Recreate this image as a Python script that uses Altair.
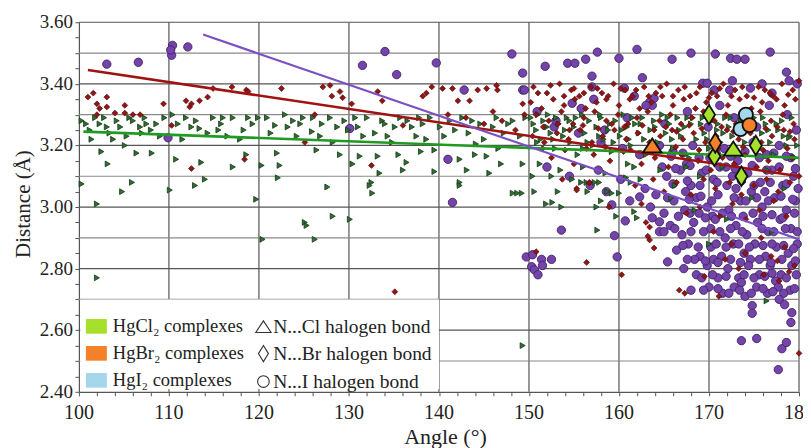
import altair as alt
import pandas as pd

SERIF = "Liberation Serif"

# ---------------- data ----------------
cl_pts = [
    (100.3,3.28),(101.2,3.25),(101.4,3.22),(100.3,3.075),(102.0,3.01),(101.8,3.29),(102.3,3.27),(103.1,3.26),
    (102.5,3.18),(103.2,3.14),(103.4,3.24),(104.2,3.28),(104.6,3.26),(104.8,3.05),(105.1,3.20),(105.3,3.23),
    (105.9,3.08),(106.0,3.28),(106.4,3.175),(106.8,3.26),(107.0,3.24),(107.5,3.27),(108.1,3.175),(108.6,3.27),
    (109.0,3.23),(110.1,3.055),(110.4,3.30),(110.8,3.155),(111.5,3.22),(112.5,3.26),(112.9,3.07),(113.4,3.255),
    (113.6,3.145),(114.0,3.09),(114.9,3.29),(115.5,3.25),(116.0,3.29),(117.1,3.29),(117.1,3.13),(117.9,3.22),
    (118.3,3.25),(118.6,3.17),(118.8,3.29),(119.7,3.025),(119.9,3.29),(120.3,3.135),(120.9,3.29),(121.8,3.265),
    (122.0,3.175),(122.3,3.135),(122.1,3.095),(122.9,3.30),(123.8,3.28),(124.2,3.23),(124.9,3.29),(125.9,3.245),
    (126.4,3.185),(127.0,3.27),(127.6,3.065),(127.9,3.29),(128.2,3.21),(128.7,3.26),(129.0,3.17),(129.5,3.28),
    (130.1,2.96),(130.4,3.14),(131.0,3.26),(131.2,3.165),(132.0,3.29),(132.5,3.08),(132.6,3.045),(132.9,3.24),
    (133.2,3.165),(133.4,3.11),(133.7,3.28),(134.3,3.23),(135.1,3.26),(136.0,3.12),(136.4,3.145),(136.5,3.28),
    (137.5,3.23),(137.8,3.29),(138.6,3.22),(139.5,3.115),(139.5,3.185),(140.1,3.26),(140.6,3.23),(142.3,3.08),
    (142.3,3.155),(143.1,3.12),(143.7,3.28),(144.1,3.205),(145.3,3.165),(145.6,3.11),(146.0,3.26),(146.9,3.14),
    (148.2,3.045),(148.7,3.045),(148.2,3.28),(149.3,3.14),(128.2,2.97),(132.3,3.07),(142.3,3.07),(120.4,2.895),
    (102.0,2.77),(125.1,2.95),(125.3,2.94),(126.2,2.895),(149.3,2.55),
    (100.8,3.27),(102.8,3.29),(103.8,3.22),(105.6,3.29),(107.3,3.29),(108.0,3.25),(109.5,3.29),(111.0,3.27),
    (111.9,3.29),(113.0,3.28),(114.3,3.24),(115.8,3.27),(116.5,3.23),(119.3,3.27),(121.3,3.24),(123.2,3.26),
    (124.6,3.27),(126.0,3.29),(126.8,3.23),(129.9,3.25),(130.7,3.29),(131.6,3.23),(134.0,3.27),(134.8,3.21),
    (135.7,3.29),(137.0,3.26),(138.2,3.27),(139.0,3.29),(141.2,3.28),(141.8,3.25),(142.6,3.29),(143.3,3.24),
    (144.6,3.27),(145.0,3.22),(146.4,3.29),(147.2,3.24),(147.7,3.27),(149.0,3.23),(149.6,3.29),(144.0,3.17),
    (146.6,3.19),(138.0,3.18),(135.5,3.17),
    (150.2,3.29),(150.8,3.25),(151.3,3.22),(151.6,3.28),(152.1,3.30),(152.4,3.24),(152.9,3.19),(153.3,3.27),
    (153.8,3.23),(154.2,3.29),(154.6,3.21),(155.0,3.26),(155.4,3.17),(155.9,3.30),(156.2,3.24),(156.7,3.28),
    (157.1,3.20),(157.5,3.26),(158.0,3.29),(158.3,3.22),(158.8,3.25),(159.2,3.18),(159.6,3.28),(160.1,3.23),
    (160.5,3.30),(160.9,3.26),(161.3,3.20),(161.8,3.27),(162.2,3.24),(162.6,3.29),(163.0,3.17),(163.5,3.25),
    (163.9,3.28),(164.3,3.21),(164.8,3.30),(165.2,3.24),(165.6,3.27),(166.0,3.19),(166.5,3.29),(166.9,3.23),
    (167.3,3.26),(167.8,3.16),(168.2,3.29),(168.6,3.22),(169.1,3.27),(169.5,3.24),(170.0,3.19),(170.4,3.28),
    (170.9,3.25),(171.3,3.21),(171.8,3.29),(172.2,3.26),(172.6,3.23),(173.1,3.17),(173.5,3.28),(174.0,3.21),
    (174.5,3.25),(175.0,3.29),(175.4,3.19),(175.9,3.24),(176.3,3.27),(176.8,3.21),(177.2,3.17),(177.7,3.25),
    (178.1,3.28),(178.6,3.20),(179.0,3.23),(179.5,3.16),
    (150.5,3.27),(151.0,3.30),(152.0,3.26),(153.0,3.29),(154.0,3.25),(155.2,3.29),(156.5,3.21),(157.8,3.23),
    (159.0,3.27),(160.3,3.25),(161.5,3.29),(162.8,3.22),(164.0,3.26),(165.4,3.29),(166.7,3.25),(168.0,3.27),
    (169.3,3.29),(171.0,3.27),(172.4,3.29),(174.2,3.27),(176.0,3.29),(177.5,3.27),(179.2,3.29),
    (150.9,3.21),(152.7,3.22),(154.5,3.28),(156.0,3.19),(157.9,3.30),(159.4,3.21),(161.1,3.22),(162.4,3.27),
    (164.1,3.19),(165.9,3.22),(167.6,3.29),(169.8,3.22),(171.6,3.24),(173.3,3.25),(175.2,3.22),(176.6,3.25),
    (178.3,3.23),(179.8,3.20),
    (151.2,3.14),(153.5,3.12),(154.8,3.09),(156.0,3.13),(158.5,3.11),(161.0,3.14),(162.4,3.09),(164.6,3.12),
    (166.2,3.07),(167.5,3.13),(169.0,3.10),(171.5,3.13),(173.8,3.08),(176.5,3.12),(178.4,3.06),(158.0,3.02),
    (161.3,3.08),(165.8,3.03),(168.4,2.99),(172.0,2.96),(174.8,3.03),(177.0,2.92),
    (150.6,3.05),(149.2,3.045),(151.9,3.01),(152.6,3.015),(153.6,3.00),(152.5,3.10),(150.4,3.10),(153.2,3.05),
    (155.8,3.08),(156.4,3.08),(156.5,3.05),(157.3,3.08),(157.8,3.08),(158.7,3.05),(159.2,3.045),(157.5,3.00),
    (157.6,2.925),(159.7,2.97),(161.7,2.985),(162.0,2.965),(160.0,3.045),(160.8,3.095),(161.7,3.13),(170.0,2.88),
    (176.4,2.695),(178.9,3.225),(179.5,3.16),
]

br_pts = [
    (101.0,3.357),(101.6,3.37),(102.0,3.335),(102.3,3.32),(102.0,3.30),(103.1,3.357),(103.1,3.325),(104.0,3.305),
    (105.1,3.33),(105.1,3.305),(106.0,3.30),(106.8,3.30),(109.4,3.335),(110.3,3.265),(111.9,3.345),(112.3,3.325),
    (112.5,3.335),(113.4,3.345),(114.3,3.357),(112.5,3.125),(114.9,3.385),(117.0,3.39),(118.6,3.38),(118.8,3.375),
    (118.4,3.155),(122.5,3.385),(127.1,3.39),(127.9,3.395),(128.1,3.36),(129.0,3.375),(129.3,3.355),(130.3,3.335),
    (133.2,3.375),(133.7,3.345),(125.1,3.21),(126.2,3.30),(132.5,3.135),(136.0,3.265),(138.2,3.36),(138.6,3.37),
    (139.2,3.39),(140.4,3.385),(141.5,3.385),(142.1,3.345),(143.4,3.345),(144.3,3.38),(145.3,3.385),(146.4,3.395),
    (146.5,3.38),(149.3,3.335),(135.1,2.725),
    (141.0,3.30),(143.0,3.29),(145.0,3.27),(147.0,3.28),(148.5,3.25),(149.5,3.30),(146.0,3.31),
    (150.5,3.39),(152.0,3.37),(153.4,3.40),(154.7,3.38),(155.6,3.36),(156.9,3.39),(158.1,3.37),(159.4,3.40),
    (160.7,3.38),(161.5,3.36),(162.8,3.39),(164.1,3.37),(165.3,3.40),(166.6,3.38),(167.9,3.36),(169.0,3.39),
    (170.3,3.37),(171.6,3.40),(172.9,3.38),(174.2,3.36),(175.5,3.39),(176.8,3.37),(178.1,3.40),(179.3,3.38),(180.0,3.41),
    (150.2,3.34),(151.4,3.32),(152.7,3.35),(153.9,3.33),(155.1,3.35),(156.3,3.32),(157.5,3.34),(158.8,3.36),
    (160.0,3.33),(161.2,3.35),(162.3,3.32),(163.6,3.34),(164.8,3.36),(166.0,3.33),(167.2,3.35),(168.5,3.32),
    (169.7,3.34),(170.9,3.36),(172.1,3.33),(173.4,3.35),(174.7,3.32),(175.9,3.34),(177.1,3.36),(178.4,3.33),(179.6,3.35),
    (150.8,3.30),(152.2,3.28),(153.6,3.31),(154.9,3.27),(156.1,3.29),(157.3,3.31),(158.6,3.28),(159.9,3.30),
    (161.0,3.27),(162.0,3.29),(163.2,3.31),(164.5,3.28),(165.7,3.30),(166.9,3.27),(168.1,3.29),(169.4,3.31),
    (170.6,3.28),(171.9,3.30),(173.0,3.27),(174.4,3.29),(175.7,3.31),(176.9,3.28),(178.2,3.30),(179.4,3.27),
    (150.4,3.23),(151.7,3.21),(153.1,3.24),(154.4,3.22),(155.7,3.25),(157.0,3.21),(158.2,3.23),(159.5,3.25),
    (160.8,3.22),(162.1,3.24),(163.4,3.21),(164.6,3.23),(165.9,3.25),(167.1,3.22),(168.3,3.24),(169.6,3.21),
    (170.8,3.23),(172.0,3.25),(173.3,3.22),(174.6,3.24),(175.8,3.21),(177.0,3.23),(178.3,3.25),(179.5,3.22),
    (151.0,3.37),(152.4,3.395),(153.9,3.36),(155.0,3.385),(156.1,3.37),(157.6,3.385),(158.6,3.35),(160.2,3.385),
    (161.9,3.38),(163.3,3.36),(164.6,3.39),(166.0,3.36),(167.3,3.39),(168.6,3.37),(170.0,3.355),(171.2,3.385),
    (172.5,3.36),(173.7,3.39),(175.0,3.355),(176.2,3.38),(177.5,3.35),(178.8,3.365),
    (151.6,3.26),(153.2,3.27),(154.5,3.25),(156.0,3.265),(157.7,3.255),(159.2,3.27),(160.6,3.26),(162.6,3.265),
    (163.9,3.25),(165.2,3.26),(166.4,3.245),(167.8,3.265),(169.2,3.255),(171.4,3.26),(172.7,3.245),(174.0,3.265),
    (176.3,3.255),(177.6,3.26),(179.0,3.245),
    (151.5,3.19),(154.0,3.185),(156.4,3.19),(158.5,3.195),(161.3,3.185),(163.7,3.18),(166.3,3.195),(168.9,3.185),
    (171.0,3.19),(173.8,3.195),(176.0,3.185),(178.7,3.19),
    (152.5,3.16),(155.0,3.14),(157.2,3.17),(159.0,3.15),(160.5,3.18),(162.5,3.14),(164.0,3.16),(165.5,3.13),
    (167.0,3.17),(168.8,3.15),(170.2,3.12),(171.5,3.16),(172.8,3.14),(174.0,3.17),(175.3,3.13),(176.6,3.15),
    (177.9,3.12),(179.2,3.16),
    (153.7,3.09),(155.3,3.06),(156.7,3.08),(158.9,3.00),(161.8,3.07),(163.8,3.09),(165.0,3.05),(166.4,3.08),
    (168.0,3.04),(169.4,3.09),(170.7,3.06),(172.3,3.08),(173.6,3.04),(175.0,3.07),(176.4,3.09),(177.7,3.05),
    (179.0,3.08),(180.0,3.10),
    (162.5,3.01),(163.0,2.95),(163.4,2.935),(167.5,2.98),(169.0,3.00),(171.2,2.97),(172.6,3.01),(174.1,2.96),
    (175.6,2.99),(177.2,3.02),(178.6,2.97),
    (163.9,2.867),(163.4,2.893),(170.5,2.92),(172.5,2.88),(174.0,2.85),(175.8,2.90),(176.9,2.84),(177.6,2.825),
    (178.4,2.87),(179.5,2.81),(173.3,2.80),(171.8,2.83),(176.1,2.78),(177.8,2.76),(178.9,2.79),
    (160.3,2.78),(156.4,2.82),(150.8,2.855),(166.7,2.73),(167.3,2.72),(169.5,2.775),(171.1,2.71),(180.0,2.525),
    (163.2,2.905),(155.3,3.055),(156.7,3.078),
]

i_pts = [
    (103.1,3.464),(106.6,3.47),(110.3,3.493),(110.4,3.525),(110.2,3.51),(112.1,3.52),(109.9,3.225),
    (131.5,3.46),(134.0,3.505),(135.3,3.43),(139.7,3.468),(130.1,3.255),(141.0,3.155),(141.5,3.015),
    (148.1,3.497),(149.3,3.435),(149.3,3.38),(142.8,3.38),
    (151.8,3.457),(154.3,3.467),(155.1,3.467),(156.3,3.48),(157.6,3.503),(157.0,3.425),(160.0,3.483),
    (162.0,3.512),(162.6,3.42),(154.8,3.337),(149.5,3.38),(157.0,3.39),(160.6,3.386),(163.4,3.34),(163.9,3.353),
    (163.7,3.33),(165.9,3.48),(168.0,3.50),(170.7,3.497),(172.4,3.483),(173.1,3.48),(174.0,3.48),(176.8,3.503),
    (178.6,3.438),(179.8,3.40),(169.3,3.402),(169.8,3.402),(172.6,3.41),(174.6,3.386),(175.9,3.40),(177.0,3.37),
    (178.9,3.41),(170.6,3.38),(172.3,3.38),
    (166.0,3.18),(168.2,3.20),(170.1,3.16),(171.7,3.19),(173.2,3.15),(174.9,3.21),(176.4,3.17),(177.8,3.20),
    (179.1,3.16),(164.5,3.20),(160.4,3.19),(158.0,3.21),(155.5,3.24),(152.8,3.26),(162.3,3.17),(167.5,3.14),
    (150.9,3.31),(153.0,3.28),(155.8,3.32),(158.4,3.25),(160.9,3.29),(163.0,3.33),(165.1,3.27),(167.6,3.31),
    (169.9,3.26),(171.2,3.33),(172.8,3.29),(175.3,3.26),(176.7,3.33),(178.7,3.30),(179.7,3.25),(157.2,3.35),(161.7,3.36),
    (165.3,3.10),(166.8,3.12),(168.0,3.07),(169.2,3.11),(170.5,3.09),(171.9,3.13),(173.0,3.06),(174.3,3.11),
    (175.7,3.08),(177.0,3.12),(178.2,3.07),(179.4,3.10),(167.4,3.05),(172.6,3.10),(176.2,3.05),
    (166.1,3.02),(167.3,2.99),(168.6,3.03),(169.8,3.00),(171.0,3.04),(172.2,2.99),(173.5,3.02),(174.7,3.05),
    (175.9,3.00),(177.3,3.03),(178.6,2.99),(179.6,3.02),(165.0,2.98),(170.4,2.97),
    (165.7,2.94),(167.0,2.91),(168.3,2.95),(169.4,2.92),(170.7,2.96),(171.8,2.90),(173.0,2.94),(174.2,2.91),
    (175.4,2.95),(176.6,2.92),(177.9,2.96),(179.1,2.93),(168.9,2.98),(172.5,2.97),(176.0,2.97),
    (166.4,2.86),(167.7,2.88),(169.0,2.84),(170.2,2.87),(171.4,2.84),(172.7,2.88),(173.9,2.85),(175.1,2.88),
    (176.3,2.84),(177.5,2.87),(178.8,2.85),(179.8,2.88),(168.4,2.83),(174.6,2.83),
    (167.2,2.80),(168.6,2.78),(169.8,2.81),(171.0,2.77),(172.1,2.80),(173.3,2.77),(174.4,2.81),(175.6,2.78),
    (176.8,2.81),(178.0,2.78),(179.2,2.81),(170.5,2.83),(177.4,2.76),
    (168.0,2.73),(170.0,2.74),(171.5,2.72),(172.8,2.74),(174.0,2.71),(175.3,2.74),(176.5,2.72),(177.7,2.74),
    (179.0,2.73),(173.6,2.755),
    (165.8,3.165),(167.1,3.175),(168.9,3.16),(170.8,3.175),(172.4,3.165),(174.0,3.18),(175.6,3.16),(177.2,3.175),(178.6,3.165),
    (164.8,3.13),(166.3,3.125),(167.9,3.135),(169.7,3.12),(171.2,3.13),(172.9,3.125),(174.8,3.135),(176.4,3.12),
    (177.8,3.13),(179.6,3.125),
    (166.0,3.075),(167.6,3.085),(169.0,3.07),(170.9,3.08),(172.0,3.07),(173.6,3.085),(175.0,3.07),(176.8,3.08),
    (178.6,3.075),(179.9,3.06),
    (165.4,3.03),(167.8,3.025),(169.1,3.035),(170.3,3.02),(172.8,3.03),(174.1,3.02),(175.3,3.03),(176.6,3.02),
    (178.0,3.035),(179.3,3.025),
    (166.6,2.97),(167.9,2.98),(169.6,2.965),(171.5,2.98),(173.8,2.97),(174.9,2.98),(177.0,2.975),(178.2,2.965),(179.5,2.98),
    (166.2,2.93),(168.0,2.92),(170.2,2.93),(171.2,2.92),(172.4,2.93),(173.7,2.92),(175.9,2.93),(177.2,2.92),
    (178.5,2.93),(179.8,2.92),
    (167.1,2.875),(168.8,2.87),(170.8,2.88),(171.9,2.87),(173.3,2.88),(174.5,2.87),(176.0,2.875),(177.0,2.88),
    (178.3,2.875),(179.4,2.865),
    (167.6,2.83),(169.6,2.825),(171.0,2.82),(172.4,2.83),(173.5,2.82),(175.6,2.83),(176.9,2.82),(178.1,2.83),(179.6,2.825),
    (169.2,2.77),(170.4,2.78),(171.9,2.775),(173.9,2.78),(175.0,2.77),(176.2,2.775),(177.0,2.785),(178.6,2.77),(179.7,2.78),
    (169.4,2.73),(171.0,2.735),(172.2,2.72),(173.4,2.73),(174.7,2.72),(176.0,2.735),(177.1,2.725),(178.3,2.72),(179.5,2.735),
    (174.8,2.68),(174.8,2.655),(177.8,2.70),(178.4,2.683),(179.2,2.657),(179.1,2.625),(173.6,2.566),(175.3,2.573),
    (178.1,2.54),(178.6,2.56),(177.7,2.472),
    (149.7,2.838),(150.4,2.845),(150.3,2.806),(150.6,2.796),(151.0,2.78),(151.4,2.83),(151.5,2.81),(152.5,2.83),
    (153.6,2.925),(159.8,2.838),(159.5,2.907),(160.7,2.955),(159.2,3.007),(162.3,3.033),(163.7,2.965),(164.5,2.952),
    (164.5,2.92),(165.0,2.92),(165.4,2.822),
    (152.0,3.13),(154.5,3.10),(156.8,3.07),(158.6,3.05),(161.2,3.02),(163.5,3.00),(157.7,3.12),(160.2,3.09),
    (162.9,3.06),(164.1,3.04),
]

# trend lines (end points)
fit_cl_angle = [100.5, 180.0]
fit_cl_dist = [3.245, 3.16]
fit_br_angle = [101.0, 180.0]
fit_br_dist = [3.445, 3.10]
fit_i_angle = [113.8, 180.0]
fit_i_dist = [3.56, 2.895]

# highlighted Hg complexes
complex_names = ["HgCl\u2082 complexes", "HgBr\u2082 complexes", "HgI\u2082 complexes"]
complex_colors = ["#a6e02a", "#f5802a", "#a4d6ec"]
bond_names = ["N...Cl halogen bond", "N...Br halogen bond", "N...I halogen bond"]

hl_angle = [163.7, 170.0, 170.6, 170.7, 172.7, 175.2, 173.6, 174.1, 173.5, 174.5]
hl_dist = [3.20, 3.30, 3.165, 3.208, 3.19, 3.20, 3.10, 3.30, 3.253, 3.266]
hl_complex = [1, 0, 0, 1, 0, 0, 0, 2, 2, 1]
hl_bond = [0, 1, 1, 1, 0, 1, 1, 2, 2, 2]

# legend background box (angle / distance extent)
box_angle = [100.15, 140.0]
box_dist = [2.408, 2.70]

# axis ticks, tick labels and grid lines
x_ticks = [100, 102, 104, 106, 108, 110, 112, 114, 116, 118, 120, 122, 124, 126, 128, 130,
           132, 134, 136, 138, 140, 142, 144, 146, 148, 150, 152, 154, 156, 158, 160, 162,
           164, 166, 168, 170, 172, 174, 176, 178, 180]
y_ticks = [2.40, 2.45, 2.50, 2.55, 2.60, 2.65, 2.70, 2.75, 2.80, 2.85, 2.90, 2.95, 3.00,
           3.05, 3.10, 3.15, 3.20, 3.25, 3.30, 3.35, 3.40, 3.45, 3.50, 3.55, 3.60]
x_labels = [100, 110, 120, 130, 140, 150, 160, 170, 180]
y_labels = ["2.40", "2.60", "2.80", "3.00", "3.20", "3.40", "3.60"]
grid_x = [110, 120, 130, 140, 150, 160, 170, 180]
grid_y_major = [2.60, 2.80, 3.00, 3.20, 3.40, 3.60]
grid_y_minor = [2.50, 2.70, 2.90, 3.10, 3.30, 3.50]
x_title = "Angle (°)"
y_title = "Distance (Å)"

# ---------------- build ----------------
def frame(pts):
    return pd.DataFrame({"angle": [p[0] for p in pts], "dist": [p[1] for p in pts]})

df_cl, df_br, df_i = frame(cl_pts), frame(br_pts), frame(i_pts)
df_fit_cl = pd.DataFrame({"angle": fit_cl_angle, "dist": fit_cl_dist})
df_fit_br = pd.DataFrame({"angle": fit_br_angle, "dist": fit_br_dist})
df_fit_i = pd.DataFrame({"angle": fit_i_angle, "dist": fit_i_dist})
df_hl = pd.DataFrame({
    "angle": hl_angle, "dist": hl_dist,
    "complex": [complex_names[k] for k in hl_complex],
    "bond": [bond_names[k] for k in hl_bond],
})
df_box = pd.DataFrame({"angle": [box_angle[0]], "angle2": [box_angle[1]],
                       "dist": [box_dist[0]], "dist2": [box_dist[1]]})
df_gx = pd.DataFrame({"angle": grid_x})
df_gy1 = pd.DataFrame({"dist": grid_y_major})
df_gy2 = pd.DataFrame({"dist": grid_y_minor})
df_xl = pd.DataFrame({"angle": x_labels, "txt": [str(v) for v in x_labels]})
df_yl = pd.DataFrame({"dist": [float(s) for s in y_labels], "txt": y_labels})
df_xt = pd.DataFrame({"txt": [x_title]})
df_yt = pd.DataFrame({"txt": [y_title]})

xscale = alt.Scale(domain=[100, 180], nice=False, zero=False)
yscale = alt.Scale(domain=[2.40, 3.60], nice=False, zero=False)

xaxis = alt.Axis(values=x_ticks, labels=False, title=None, grid=False,
                 tickColor="#555", tickSize=4, domainColor="#555", domainWidth=1.2)
yaxis = alt.Axis(values=y_ticks, labels=False, title=None, grid=False,
                 tickColor="#555", tickSize=4, domainColor="#555", domainWidth=1.2)

X = alt.X("angle:Q", scale=xscale, axis=xaxis)
Y = alt.Y("dist:Q", scale=yscale, axis=yaxis)

gx = alt.Chart(df_gx).mark_rule(color="#555", strokeWidth=1.2).encode(x=X)
gy1 = alt.Chart(df_gy1).mark_rule(color="#555", strokeWidth=1.2).encode(y=Y)
gy2 = alt.Chart(df_gy2).mark_rule(color="#8a8a8a", strokeWidth=1.2).encode(y=Y)

purple = alt.Chart(df_i).mark_point(
    shape="circle", filled=True, opacity=1, size=70,
    fill="#7444a8", stroke="#40226b", strokeWidth=0.9,
).encode(x=X, y=Y)

green = alt.Chart(df_cl).mark_point(
    shape="triangle-right", filled=True, opacity=1, size=34,
    fill="#2f6e30", stroke="#173a17", strokeWidth=0.8,
).encode(x=X, y=Y)

red = alt.Chart(df_br).mark_point(
    shape="diamond", filled=True, opacity=1, size=34,
    fill="#8e1616", stroke="#5c0808", strokeWidth=0.7,
).encode(x=X, y=Y)

fit_cl = alt.Chart(df_fit_cl).mark_line(color="#1f9a22", strokeWidth=2.6).encode(x=X, y=Y)
fit_br = alt.Chart(df_fit_br).mark_line(color="#a01212", strokeWidth=2.6).encode(x=X, y=Y)
fit_i = alt.Chart(df_fit_i).mark_line(color="#7a50c4", strokeWidth=2.2).encode(x=X, y=Y)

box = alt.Chart(df_box).mark_rect(color="white").encode(
    x=X, x2="angle2:Q", y=Y, y2="dist2:Q",
)

# tick labels and axis titles as serif text
xlab = alt.Chart(df_xl).mark_text(font=SERIF, fontSize=20, color="#222", baseline="middle").encode(
    x=X, y=alt.value(391), text="txt:N")
ylab = alt.Chart(df_yl).mark_text(font=SERIF, fontSize=19, color="#222", align="right",
                                   baseline="middle").encode(
    y=Y, x=alt.value(-6), text="txt:N")
xtit = alt.Chart(df_xt).mark_text(font=SERIF, fontSize=22, color="#222", baseline="middle").encode(
    x=alt.value(367), y=alt.value(415), text="txt:N")
ytit = alt.Chart(df_yt).mark_text(font=SERIF, fontSize=21, color="#222", baseline="middle",
                                   angle=270).encode(
    x=alt.value(-55), y=alt.value(182), text="txt:N")

TRI = "M0,-0.72L0.95,0.72L-0.95,0.72Z"
DIA = "M0,-1L0.62,0L0,1L-0.62,0Z"
CIR = "M0.72,0A0.72,0.72,0,1,1,-0.72,0A0.72,0.72,0,1,1,0.72,0Z"
RECT = "M-1,-0.7L1,-0.7L1,0.7L-1,0.7Z"

hl = alt.Chart(df_hl).mark_point(
    filled=True, opacity=1, size=380, stroke="#111", strokeWidth=1.8,
).encode(
    x=X, y=Y,
    fill=alt.Fill("complex:N", scale=alt.Scale(domain=complex_names, range=complex_colors),
                  legend=alt.Legend(
                      title=None, orient="none", legendX=7, legendY=294,
                      symbolType=RECT, symbolSize=441, symbolStrokeWidth=0,
                      symbolOpacity=1, rowPadding=7, labelOffset=6,
                      labelFont=SERIF, labelFontSize=18.5, labelColor="#222",
                  )),
    shape=alt.Shape("bond:N", scale=alt.Scale(domain=bond_names, range=[TRI, DIA, CIR]),
                    legend=alt.Legend(
                        title=None, orient="none", legendX=175, legendY=295,
                        symbolSize=260, symbolFillColor="white", symbolStrokeColor="#333",
                        symbolStrokeWidth=1.1, symbolOpacity=1, rowPadding=6, labelOffset=0,
                        labelFont=SERIF, labelFontSize=19.5, labelColor="#222",
                    )),
)

chart = alt.layer(gx, gy1, gy2, purple, green, red, fit_cl, fit_br, fit_i, box, hl,
                  xlab, ylab, xtit, ytit).properties(
    width=721, height=370,
    autosize=alt.AutoSizeParams(type="none"),
    padding={"left": 71, "top": 14, "right": 4, "bottom": 62},
    background="white",
).configure_view(stroke=None).configure_legend(labelFont=SERIF)

chart.save("out.html", embed_options={"renderer": "svg", "actions": False})
